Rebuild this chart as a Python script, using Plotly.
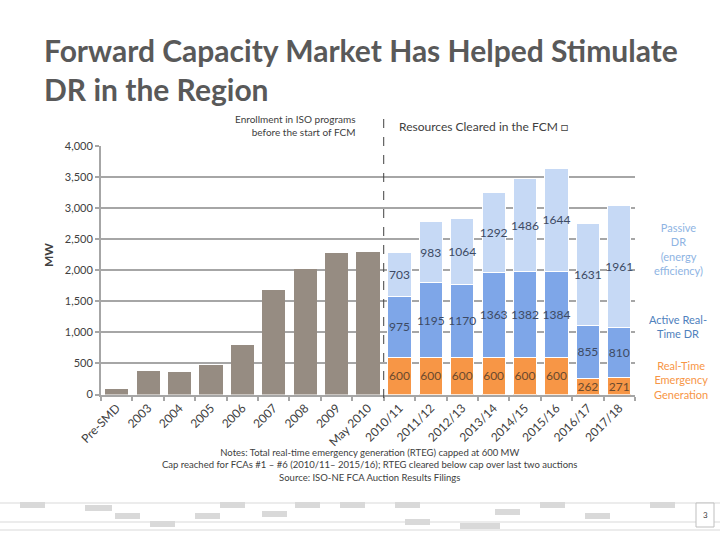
import plotly.graph_objects as go

# ---- data ----
pre_categories = ["Pre-SMD", "2003", "2004", "2005", "2006", "2007", "2008", "2009", "May 2010"]
pre_values = [90, 380, 360, 470, 790, 1680, 2010, 2270, 2290]

fcm_categories = ["2010/11", "2011/12", "2012/13", "2013/14", "2014/15", "2015/16", "2016/17", "2017/18"]
rteg_values = [600, 600, 600, 600, 600, 600, 262, 271]
active_values = [975, 1195, 1170, 1363, 1382, 1384, 855, 810]
passive_values = [703, 983, 1064, 1292, 1486, 1644, 1631, 1961]

y_ticks = [0, 500, 1000, 1500, 2000, 2500, 3000, 3500, 4000]

all_categories = pre_categories + fcm_categories

FONT = "Lato"
GRAY_BAR = "#968c82"
ORANGE = "#f79646"
ACTIVE = "#7ea6e8"
PASSIVE = "#c6d9f5"

fig = go.Figure()

fig.add_trace(go.Bar(
    x=pre_categories, y=pre_values, marker=dict(color=GRAY_BAR, line=dict(width=0)),
    name="Enrollment", showlegend=False, hoverinfo="x+y",
))

common = dict(textposition="inside", insidetextanchor="middle", textangle=0,
              constraintext="none", cliponaxis=False, showlegend=False)

fig.add_trace(go.Bar(
    x=fcm_categories, y=rteg_values, text=[str(v) for v in rteg_values],
    marker=dict(color=ORANGE, line=dict(color="white", width=1)),
    insidetextfont=dict(family=FONT, size=12, color="#6b4a2e"),
    name="Real-Time Emergency Generation", **common,
))
fig.add_trace(go.Bar(
    x=fcm_categories, y=active_values, text=[str(v) for v in active_values],
    marker=dict(color=ACTIVE, line=dict(color="white", width=1)),
    insidetextfont=dict(family=FONT, size=12, color="#3d4a63"),
    name="Active Real-Time DR", **common,
))
fig.add_trace(go.Bar(
    x=fcm_categories, y=passive_values, text=[str(v) for v in passive_values],
    marker=dict(color=PASSIVE, line=dict(color="white", width=1)),
    insidetextfont=dict(family=FONT, size=12, color="#3d4a63"),
    name="Passive DR", **common,
))

fig.update_layout(
    width=720, height=540, autosize=False,
    margin=dict(l=0, r=0, t=0, b=0, pad=0, autoexpand=False),
    paper_bgcolor="white", plot_bgcolor="white",
    barmode="stack", bargap=0.26,
    font=dict(family=FONT, color="#404040"),
    xaxis=dict(
        domain=[101 / 720, 635 / 720], automargin=False,
        categoryorder="array", categoryarray=all_categories,
        tickangle=-45, tickfont=dict(size=12, color="#404040"),
        showline=True, linecolor="#a6a6a6", linewidth=2,
        ticks="outside", tickson="boundaries", ticklen=4, tickcolor="#a6a6a6", tickwidth=2,
        showgrid=False, fixedrange=True,
    ),
    yaxis=dict(
        domain=[1 - 394.5 / 540, 1 - 145.7 / 540], automargin=False,
        range=[0, 4000], tickvals=y_ticks, tickformat=",d",
        tickfont=dict(size=11, color="#404040"),
        showgrid=True, gridcolor="#a6a6a6", gridwidth=2,
        showline=True, linecolor="#a6a6a6", linewidth=2,
        ticks="outside", ticklen=4, tickcolor="#a6a6a6", tickwidth=2,
        zeroline=False,
        fixedrange=True,
    ),
)

# Y axis title placed as in the reference (above plot mid-height)
fig.add_annotation(xref="paper", yref="paper", x=48 / 720, y=1 - 255 / 540,
                   xanchor="center", yanchor="middle", showarrow=False, textangle=-90,
                   text="<b>MW</b>", font=dict(family=FONT, size=12, color="#404040"))

# Vertical dashed separator between pre-FCM and FCM periods
fig.add_shape(type="line", xref="x", yref="paper",
              x0=len(pre_categories) - 0.5, x1=len(pre_categories) - 0.5,
              y0=1 - 398 / 540, y1=1 - 115 / 540,
              line=dict(color="#404040", width=1, dash="dash"))

# Title
fig.add_annotation(xref="paper", yref="paper", x=42 / 720, y=1 - 30 / 540,
                   xanchor="left", yanchor="top", align="left", showarrow=False,
                   text="<b>Forward Capacity Market Has Helped Stimulate<br>DR in the Region</b>",
                   font=dict(family=FONT, size=30, color="#595959"))

# Section labels
fig.add_annotation(xref="paper", yref="paper", x=358 / 720, y=1 - 111 / 540,
                   xanchor="right", yanchor="top", align="right", showarrow=False,
                   text="Enrollment in ISO programs<br>before the start of FCM",
                   font=dict(family=FONT, size=10, color="#404040"))
fig.add_annotation(xref="paper", yref="paper", x=397 / 720, y=1 - 126 / 540,
                   xanchor="left", yanchor="middle", showarrow=False,
                   text="Resources Cleared in the FCM \u25a1",
                   font=dict(family=FONT, size=12, color="#404040"))

# Right-side series labels
fig.add_annotation(xref="paper", yref="paper", x=678 / 720, y=1 - 249 / 540,
                   xanchor="center", yanchor="middle", align="center", showarrow=False,
                   text="Passive<br>DR<br>(energy<br>efficiency)",
                   font=dict(family=FONT, size=11, color="#8eb4e3"))
fig.add_annotation(xref="paper", yref="paper", x=678 / 720, y=1 - 326 / 540,
                   xanchor="center", yanchor="middle", align="center", showarrow=False,
                   text="Active Real-<br>Time DR",
                   font=dict(family=FONT, size=11, color="#4f81bd"))
fig.add_annotation(xref="paper", yref="paper", x=681 / 720, y=1 - 380 / 540,
                   xanchor="center", yanchor="middle", align="center", showarrow=False,
                   text="Real-Time<br>Emergency<br>Generation",
                   font=dict(family=FONT, size=11, color="#f79646"))

# Notes
fig.add_annotation(xref="paper", yref="paper", x=370 / 720, y=1 - 465 / 540,
                   xanchor="center", yanchor="middle", align="center", showarrow=False,
                   text=("Notes: Total real-time emergency generation (RTEG) capped at 600 MW<br>"
                         "Cap reached for FCAs #1 \u2013 #6 (2010/11\u2013 2015/16); RTEG cleared below cap over last two auctions<br>"
                         "Source: ISO-NE FCA Auction Results Filings"),
                   font=dict(family=FONT, size=9.5, color="#404040"))

# Decorative footer strip (faint circuit-like lines) and page number
deco_color = "#d9d9d9"
for yy in [503, 522, 530]:
    fig.add_shape(type="line", xref="paper", yref="paper", x0=0, x1=1,
                  y0=1 - yy / 540, y1=1 - yy / 540, line=dict(color=deco_color, width=1))
for (x0, yy, w) in [(20, 503, 25), (85, 506, 27), (115, 514, 25), (150, 522, 25), (195, 514, 25),
                    (220, 503, 25), (262, 512, 25), (295, 503, 25), (340, 503, 25), (395, 503, 25),
                    (405, 520, 25), (460, 524, 40), (495, 510, 25), (540, 503, 25), (585, 514, 25),
                    (650, 503, 25)]:
    fig.add_shape(type="rect", xref="paper", yref="paper",
                  x0=x0 / 720, x1=(x0 + w) / 720, y0=1 - (yy + 5) / 540, y1=1 - (yy - 1) / 540,
                  line=dict(width=0), fillcolor=deco_color)
fig.add_shape(type="rect", xref="paper", yref="paper",
              x0=696 / 720, x1=714 / 720, y0=1 - 527 / 540, y1=1 - 503 / 540,
              line=dict(color="#bfbfbf", width=1), fillcolor="white")
fig.add_annotation(xref="paper", yref="paper", x=705 / 720, y=1 - 515 / 540,
                   xanchor="center", yanchor="middle", showarrow=False, text="3",
                   font=dict(family=FONT, size=8, color="#404040"))

fig.write_html(
    "out.html",
    config={"responsive": False, "displayModeBar": False},
    post_script="document.body.style.margin='0';document.body.style.overflow='hidden';",
)
